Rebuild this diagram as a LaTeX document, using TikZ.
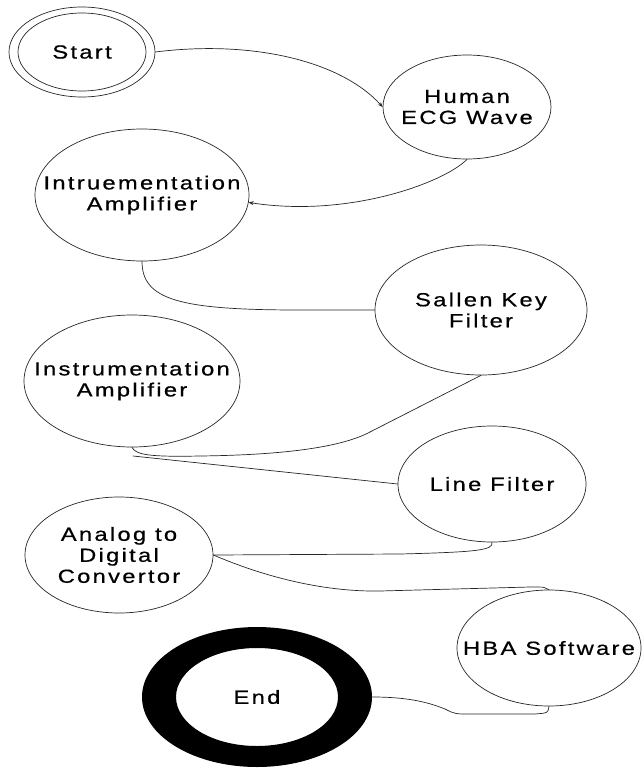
\documentclass[tikz,border=0pt]{standalone}
\usepackage{fontspec}
\setmainfont{Liberation Sans}[FakeStretch=1.25,LetterSpace=12,FakeBold=0.6]
\usetikzlibrary{arrows.meta,shapes.geometric}

\begin{document}
\begin{tikzpicture}[x=1pt,y=-1pt,line width=0.7pt,line cap=round,
  font=\fontsize{19}{21}\selectfont,
  stage/.style={ellipse,draw=black!85,inner sep=0pt},
  >={Stealth[length=5pt,width=4pt]}]
\useasboundingbox (0,0) rectangle (643,769);
% stages
\node[stage,minimum width=146pt,minimum height=90pt,label=center:Start] (start) at (82,52) {};
\draw[black!85] (start.center) ellipse [x radius=64pt,y radius=39pt];
\node[stage,minimum width=168pt,minimum height=104pt,label={[align=center]center:Human\\ECG Wave}] (ecg) at (467,107) {};
\node[stage,minimum width=214pt,minimum height=132pt,label={[align=center]center:Intruementation\\Amplifier}] (ia1) at (142,195) {};
\node[stage,minimum width=212pt,minimum height=130pt,label={[align=center]center:Sallen Key\\Filter}] (sk) at (481,310) {};
\node[stage,minimum width=216pt,minimum height=132pt,label={[align=center]center:Instrumentation\\Amplifier}] (ia2) at (132,381) {};
\node[stage,minimum width=188pt,minimum height=116pt,label=center:Line Filter] (lf) at (492,484) {};
\node[stage,minimum width=188pt,minimum height=116pt,label={[align=center]center:Analog to\\Digital\\Convertor}] (adc) at (119,555) {};
\node[stage,minimum width=184pt,minimum height=116pt,label=center:HBA Software] (hba) at (549,648) {};
\node[ellipse,inner sep=0pt,minimum width=230pt,minimum height=140pt,label=center:End] (end) at (257,697) {};
\fill[even odd rule] (end.center) ellipse [x radius=115pt,y radius=70pt]
  (end.center) ellipse [x radius=81pt,y radius=49pt];
\coordinate (ia2tail) at (133,456);
% links
\begin{scope}[draw=black!85]
\draw[->] (start.east) .. controls (250,40) and (340,60) .. (ecg.west);
\draw[->] (ecg.south) .. controls (445,182) and (350,218) .. (ia1.-4);
\draw (ia1.south) .. controls (142,300) and (180,310) .. (300,310) -- (sk.west);
\draw (ia2.south) .. controls (136,455) and (150,457) .. (200,456)
  .. controls (280,455) and (340,448) .. (370,432) -- (sk.south);
\draw (ia2tail) -- (lf.west);
\draw (lf.south) .. controls (493,550) and (480,552) .. (400,554) -- (adc.east);
\draw (adc.east) .. controls (260,575) and (320,592) .. (380,591) -- (530,587)
  .. controls (545,587) .. (hba.north);
\draw (end.east) .. controls (410,697) and (430,703) .. (445,709)
  .. controls (455,714) .. (470,714) -- (535,714) .. controls (548,713) .. (hba.south);
\end{scope}
\end{tikzpicture}
\end{document}
